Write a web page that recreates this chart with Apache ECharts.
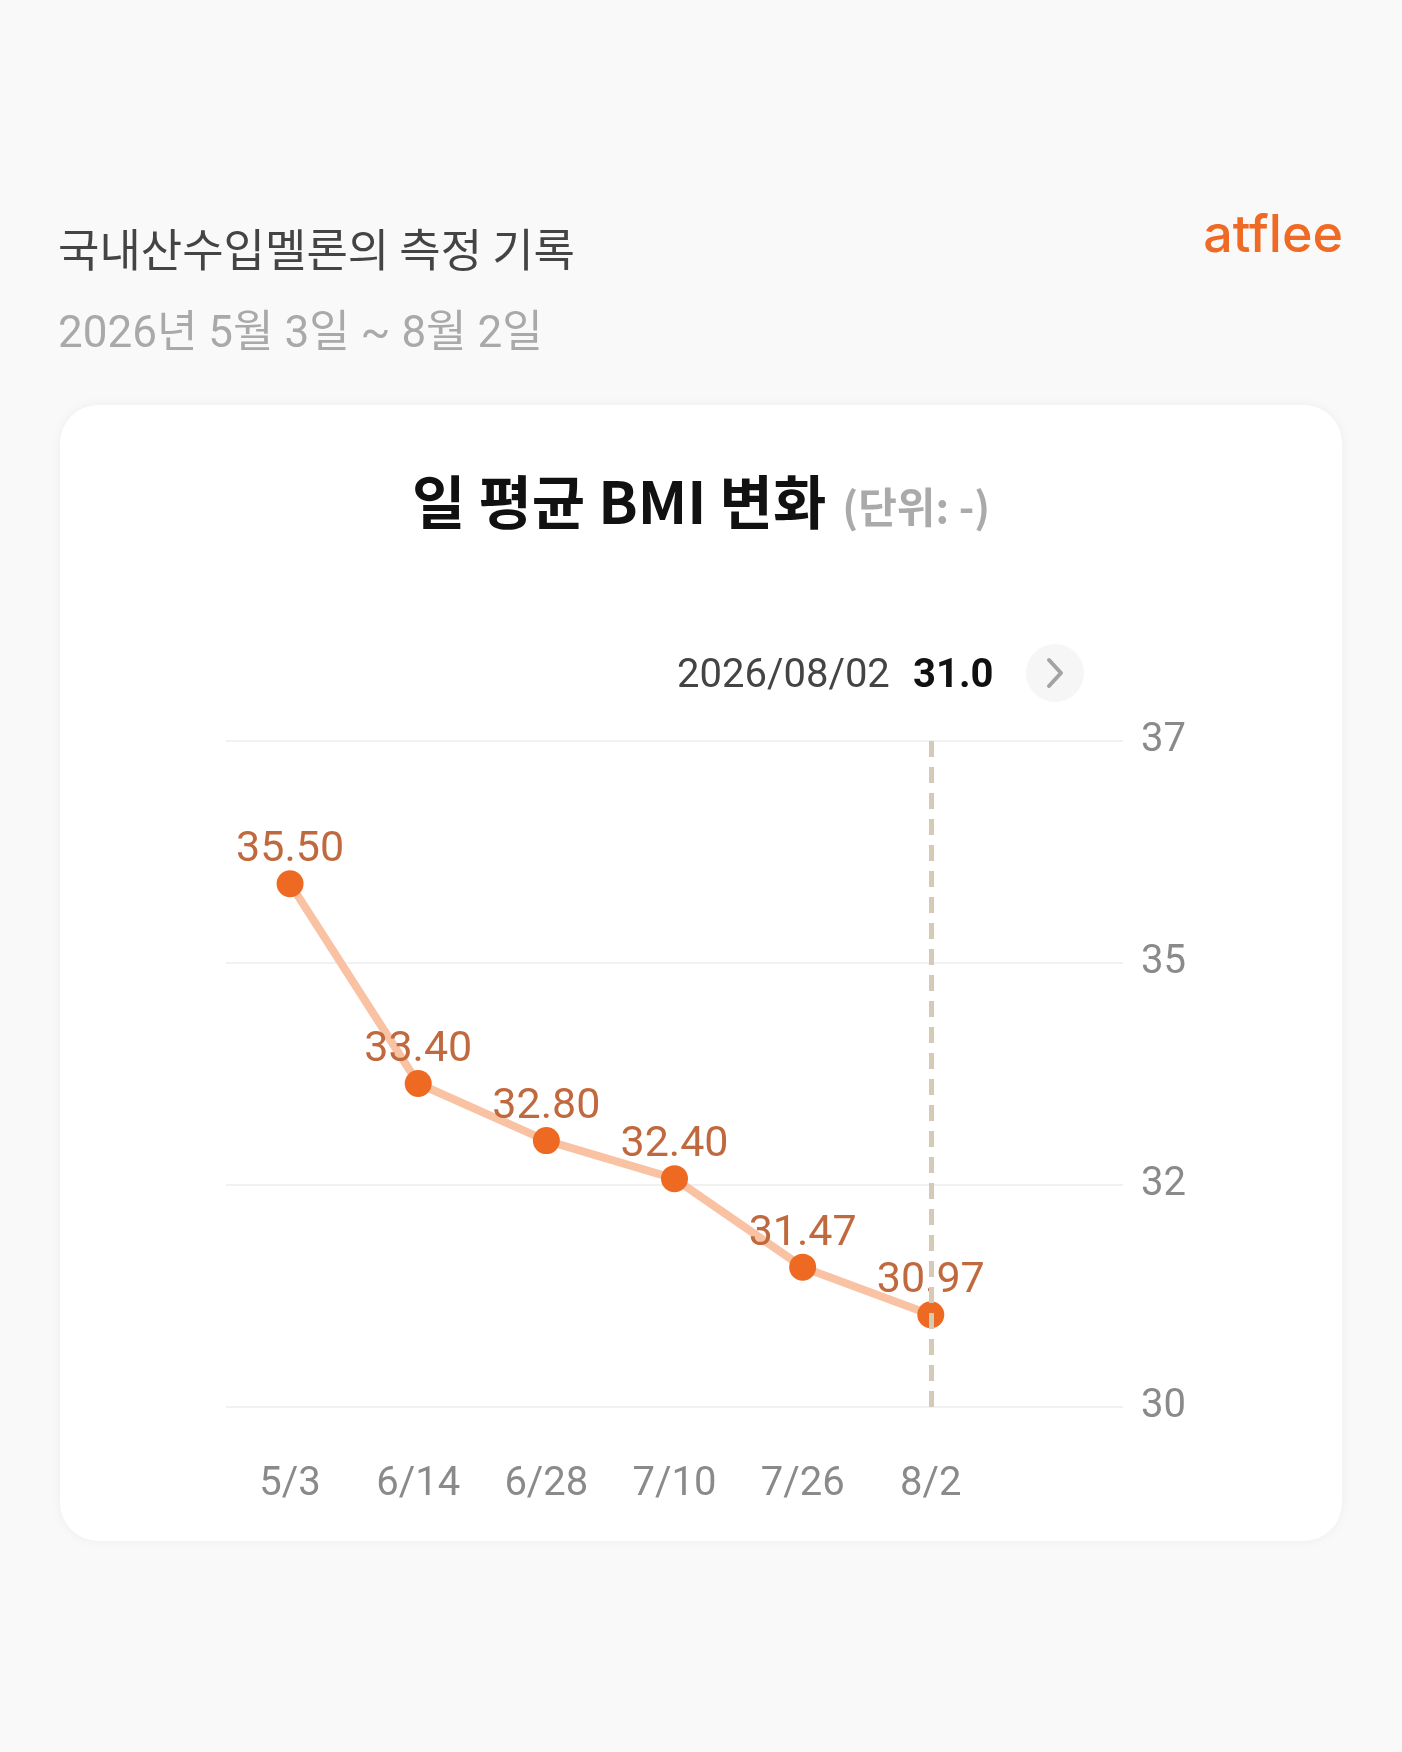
<!DOCTYPE html>
<html>
<head>
<meta charset="utf-8">
<script src="https://cdn.jsdelivr.net/npm/echarts@6/dist/echarts.min.js"></script>
<style>
  html, body { margin: 0; padding: 0; background: #f9f9f9; }
  #chart { width: 1402px; height: 1752px; }
</style>
</head>
<body>
<div id="chart"></div>
<script>
// ---- data ----
const xCats = ['5/3', '6/14', '6/28', '7/10', '7/26', '8/2'];
const bmiValues = [35.50, 33.40, 32.80, 32.40, 31.47, 30.97];
const yMin = 30;
const yMax = 37;
const ySplits = 3;
const pageTitle = '국내산수입멜론의 측정 기록';
const pageSubtitle = '2026년 5월 3일 ~ 8월 2일';
const chartTitle = '일 평균 BMI 변화';
const chartUnit = '(단위: -)';
const selectedDate = '2026/08/02';
const brand = 'atflee';

const NUM_FONT = "Roboto, 'Noto Sans CJK KR', sans-serif";
const KR_FONT = "'Noto Sans CJK KR', Roboto, sans-serif";

const chart = echarts.init(document.getElementById('chart'), null, { renderer: 'canvas' });
const lastIdx = bmiValues.length - 1;

const option = {
  backgroundColor: '#f9f9f9',
  animation: false,
  graphic: [
    { type: 'rect', z: -10, shape: { x: 60, y: 405, width: 1282, height: 1136, r: 38 },
      style: { fill: '#ffffff', shadowBlur: 12, shadowColor: 'rgba(0,0,0,0.05)' } },
    { type: 'text', x: 58, y: 250, style: { text: pageTitle, font: "45px " + KR_FONT, fill: '#444444', align: 'left', verticalAlign: 'middle' } },
    { type: 'text', x: 58, y: 336, style: { text: pageSubtitle, font: "44px " + NUM_FONT, fill: '#a9a9a9', align: 'left', verticalAlign: 'middle' } },
    { type: 'text', x: 1343, y: 236, style: { text: brand, font: "500 52px Inter, sans-serif", fill: '#ef6a24', align: 'right', verticalAlign: 'middle' } },
    { type: 'text', x: 701, y: 502, style: {
        text: '{a|' + chartTitle + '}{b|' + chartUnit + '}', align: 'center', verticalAlign: 'middle',
        rich: {
          a: { fontSize: 58, fontWeight: 'bold', fontFamily: KR_FONT, fill: '#111111', color: '#111111' },
          b: { fontSize: 42, fontWeight: 'bold', fontFamily: KR_FONT, fill: '#aaaaaa', color: '#aaaaaa', padding: [10, 0, 0, 16] }
        } } },
    { type: 'text', x: 677, y: 677, style: { text: selectedDate, font: "40px " + NUM_FONT, fill: '#444444', align: 'left', verticalAlign: 'middle' } },
    { type: 'text', x: 913, y: 677, style: { text: bmiValues[lastIdx].toFixed(1), font: "bold 40px " + NUM_FONT, fill: '#111111', align: 'left', verticalAlign: 'middle' } },
    { type: 'circle', shape: { cx: 1055, cy: 673, r: 29 }, style: { fill: '#f6f6f6' } },
    { type: 'polyline', shape: { points: [[1049, 660], [1061, 673], [1049, 686]] },
      style: { stroke: '#a3a3a3', lineWidth: 4, fill: null, lineCap: 'round', lineJoin: 'round' } }
  ],
  grid: { left: 226, right: 279, top: 741, bottom: 345, containLabel: false },
  xAxis: {
    type: 'category',
    data: xCats.concat(['']),
    boundaryGap: true,
    axisLine: { show: false },
    axisTick: { show: false },
    splitLine: { show: false },
    axisLabel: { fontSize: 40, color: '#8a8a8a', fontFamily: NUM_FONT, margin: 58 }
  },
  yAxis: {
    type: 'value',
    position: 'right',
    min: yMin,
    max: yMax,
    interval: (yMax - yMin) / ySplits,
    axisLine: { show: false },
    axisTick: { show: false },
    splitLine: { show: true, lineStyle: { color: '#f1f1f1', width: 2 } },
    axisLabel: { fontSize: 40, color: '#8a8a8a', fontFamily: NUM_FONT, margin: 18,
      formatter: v => String(Math.round(v)) }
  },
  series: [
    {
      type: 'line',
      z: 1,
      data: [],
      markLine: {
        silent: true,
        symbol: ['none', 'none'],
        label: { show: false },
        lineStyle: { type: [16, 10], color: '#d4cab6', width: 5 },
        data: [{ xAxis: xCats[lastIdx] }]
      }
    },
    {
      type: 'line',
      z: 3,
      data: bmiValues,
      symbol: 'circle',
      symbolSize: 27,
      lineStyle: { color: '#f8c2a3', width: 8 },
      itemStyle: { color: '#ee6a22' },
      label: {
        show: true,
        position: 'top',
        distance: -2,
        fontSize: 43,
        fontFamily: NUM_FONT,
        color: '#c0693e',
        formatter: p => Number(p.value).toFixed(2)
      }
    }
  ]
};
chart.setOption(option);
</script>
</body>
</html>
